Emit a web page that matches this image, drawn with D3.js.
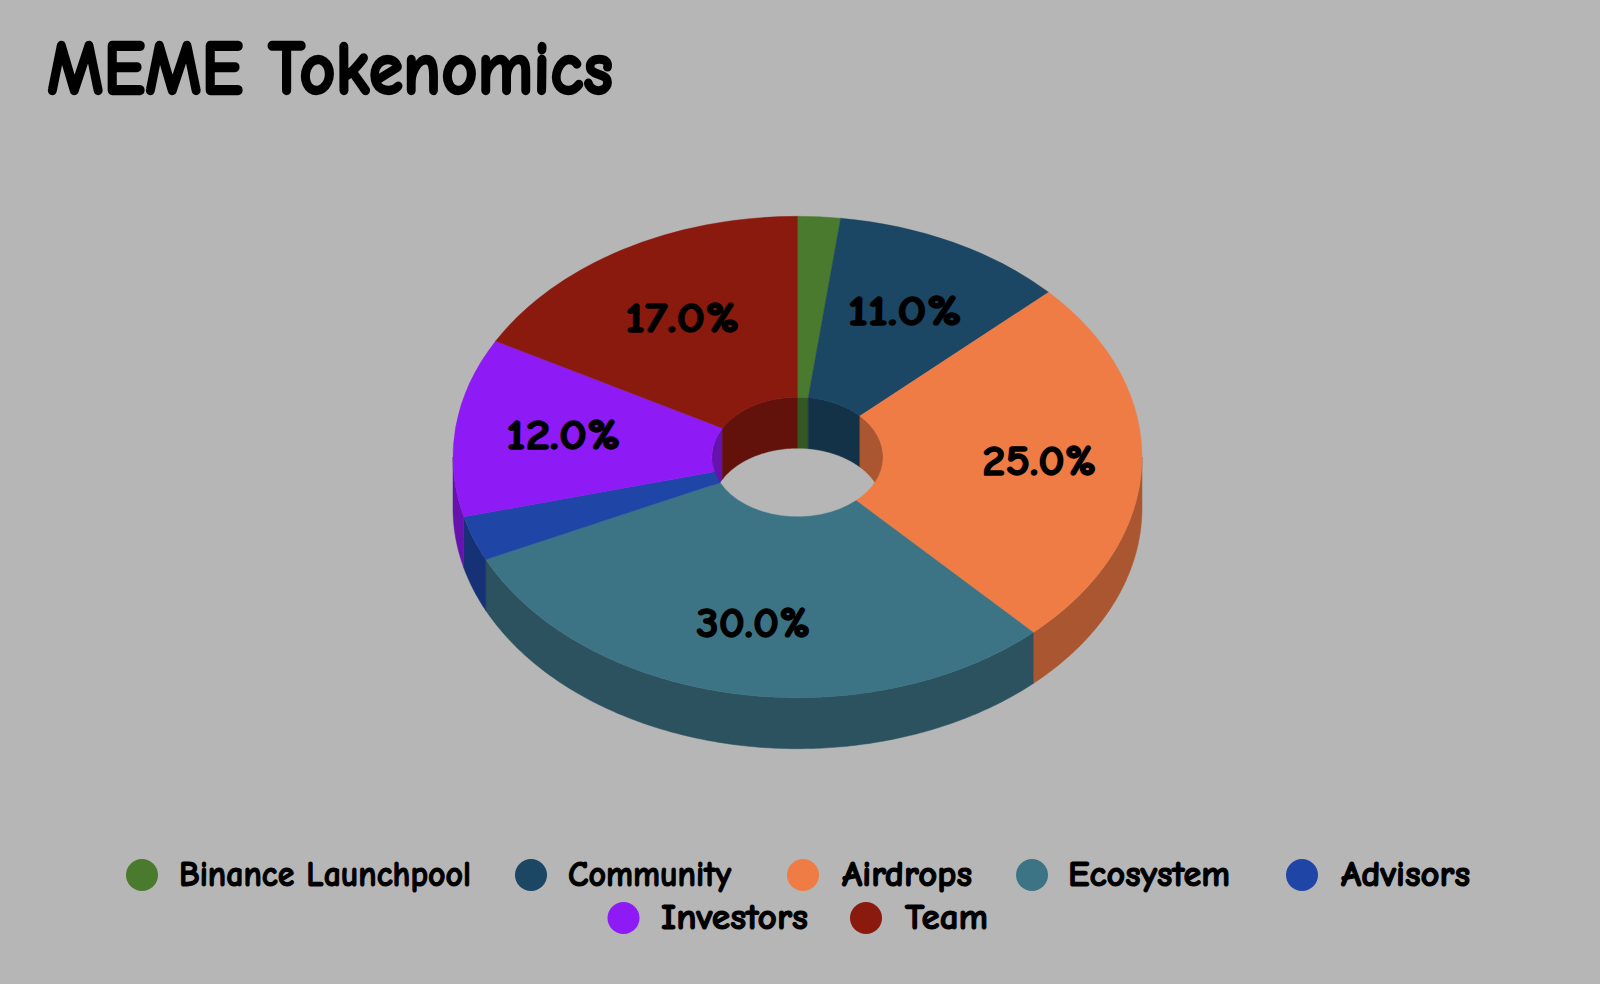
<!DOCTYPE html>
<html><head><meta charset="utf-8">
<script src="https://cdn.jsdelivr.net/npm/d3@7/dist/d3.min.js"></script>
<style>
html,body{margin:0;padding:0;background:#b6b6b6;overflow:hidden}
svg{display:block}
text{font-family:"Comic Sans MS","Comic Neue","Lato","Noto Sans",sans-serif;font-weight:700;fill:#000;stroke:#000;stroke-linejoin:round}
</style></head><body>
<svg id="c" width="1600" height="984"></svg>
<script>
const title = "MEME Tokenomics";
const categories = ["Binance Launchpool","Community","Airdrops","Ecosystem","Advisors","Investors","Team"];
const values = [2,11,25,30,3,12,17];
const colors = ["#4a7a2e","#1b4664","#ef7b45","#3c7485","#1f45a6","#8e1af5","#8a190e"];
const hiddenLabelBelow = 5;

const W=1600,H=984;
const cx=797.5, cy=457, rx=344.5, ry=240.7, inner=85.6, depth=51, labelR=236;
const wallShade=0.71;
const labelNudge=[[0,0],[0,0],[6,-2],[0,3],[0,0],[0,-2],[5,2]];
const legendLayout=[
 {dot:142,tx:179,end:471,y:875},{dot:531,tx:568,end:731,y:875},{dot:803,tx:842,end:972,y:875},
 {dot:1032,tx:1068,end:1230,y:875},{dot:1302,tx:1341,end:1470,y:875},
 {dot:623.5,tx:661,end:808,y:918},{dot:866,tx:905,end:988,y:918}];

const svg=d3.select("#c");
svg.append("rect").attr("width",W).attr("height",H).attr("fill","#b6b6b6");

const arcs=d3.pie().sort(null).value(d=>d)(values);
const sy=ry/rx;
const px=(r,a)=>cx+r*Math.sin(a);
const py=(r,a,dz=0)=>cy-r*sy*Math.cos(a)+dz;
const line=d3.line();
const shade=c=>{const k=d3.rgb(c);return d3.rgb(k.r*wallShade,k.g*wallShade,k.b*wallShade).formatHex();};
const samples=(a0,a1)=>{const n=Math.max(2,Math.ceil(Math.abs(a1-a0)/0.01));return d3.range(n+1).map(i=>a0+(a1-a0)*i/n);};
function band(r,a0,a1){
  const s=samples(a0,a1);
  return line([...s.map(a=>[px(r,a),py(r,a)]),...s.slice().reverse().map(a=>[px(r,a),py(r,a,depth)])])+"Z";
}
const PI=Math.PI;
const gOuter=svg.append("g");
arcs.forEach((d,i)=>{
  const a0=Math.max(d.startAngle,PI/2),a1=Math.min(d.endAngle,3*PI/2);
  if(a1>a0) gOuter.append("path").attr("d",band(rx,a0,a1)).attr("fill",shade(colors[i])).attr("stroke",shade(colors[i])).attr("stroke-width",0.5);
});
const gInner=svg.append("g");
arcs.forEach((d,i)=>{
  [[d.startAngle,Math.min(d.endAngle,PI/2)],[Math.max(d.startAngle,3*PI/2),d.endAngle]].forEach(([a0,a1])=>{
    if(a1>a0) gInner.append("path").attr("d",band(inner,a0,a1)).attr("fill",shade(colors[i])).attr("stroke",shade(colors[i])).attr("stroke-width",0.5);
  });
});
const arcGen=d3.arc().innerRadius(inner).outerRadius(rx);
svg.append("g").attr("transform",`translate(${cx},${cy}) scale(1,${sy})`)
  .selectAll("path").data(arcs).join("path")
  .attr("d",arcGen).attr("fill",(d,i)=>colors[i]).attr("stroke",(d,i)=>colors[i]).attr("stroke-width",0.5);
svg.append("g").selectAll("text").data(arcs.filter(d=>d.data>=hiddenLabelBelow)).join("text")
  .attr("x",d=>px(labelR,(d.startAngle+d.endAngle)/2)+labelNudge[d.index][0])
  .attr("y",d=>py(labelR,(d.startAngle+d.endAngle)/2)+labelNudge[d.index][1]+15)
  .attr("text-anchor","middle").attr("font-size",43).attr("stroke-width",1.4)
  .attr("textLength",114).attr("lengthAdjust","spacingAndGlyphs")
  .text(d=>d.data.toFixed(1)+"%");
svg.append("text").attr("x",47).attr("y",94).attr("font-size",76).attr("stroke-width",2.4)
  .attr("textLength",566).attr("lengthAdjust","spacingAndGlyphs").text(title);
const lg=svg.append("g");
categories.forEach((c,i)=>{
  const l=legendLayout[i];
  lg.append("circle").attr("cx",l.dot).attr("cy",l.y).attr("r",16).attr("fill",colors[i]);
  lg.append("text").attr("x",l.tx).attr("y",l.y+11).attr("font-size",37).attr("stroke-width",1.1)
    .attr("textLength",l.end-l.tx).attr("lengthAdjust","spacingAndGlyphs").text(c);
});
</script></body></html>
